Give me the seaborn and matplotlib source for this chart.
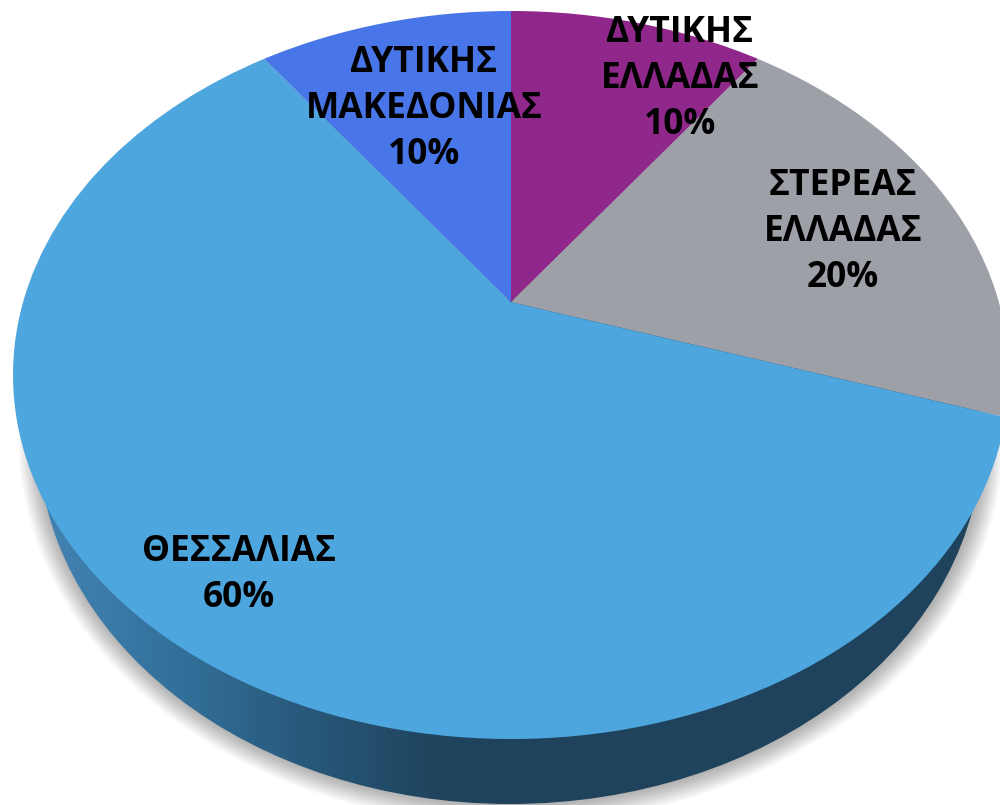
import numpy as np
import seaborn as sns
import matplotlib.pyplot as plt
import matplotlib.transforms as mtransforms
from matplotlib.patches import Ellipse

# Data
regions = ['ΔΥΤΙΚΗΣ\nΕΛΛΑΔΑΣ', 'ΣΤΕΡΕΑΣ\nΕΛΛΑΔΑΣ', 'ΘΕΣΣΑΛΙΑΣ', 'ΔΥΤΙΚΗΣ\nΜΑΚΕΔΟΝΙΑΣ']
shares = [10, 20, 60, 10]

# Style / layout
slice_colors = ['#90278B', '#9EA0A8', '#4DA6DE', '#4876E8']
label_centers = [(680, 33), (843, 186), (239, 552), (424, 63)]
line_step = 46
top_disc = (511, 375, 498, 364)  # cx, cy, rx, ry in pixels
low_disc = (510, 437, 472, 367)
tilt = 0.2  # how far the pie centre moves up the disc


class TiltedDisc(mtransforms.Transform):
    """Unit circle -> perspective ellipse, the pie centre lands above the middle."""
    input_dims = 2
    output_dims = 2
    has_inverse = False
    is_separable = False

    def transform_non_affine(self, values):
        x, y = np.asarray(values).T
        d = 1 + y * tilt
        xx = x * np.sqrt(1 - tilt ** 2) / d
        yy = (y + tilt) / d
        cx, cy, rx, ry = top_disc
        return np.column_stack([cx + rx * xx, cy - ry * yy])


sns.set_theme(style='white')
plt.rcParams['font.family'] = ['Open Sans', 'DejaVu Sans']

fig = plt.figure(figsize=(10, 8.05), dpi=100)
ax = fig.add_axes([0, 0, 1, 1])

wedges, _ = ax.pie(shares, colors=sns.color_palette(slice_colors), startangle=90,
                   counterclock=False)
disc = TiltedDisc()
for w in wedges:
    w.set_transform(disc + ax.transData)
    w.set_zorder(5)
    w.set_linewidth(0)

ax.set_aspect('auto')
ax.set_xlim(0, 1000)
ax.set_ylim(805, 0)
ax.axis('off')

# soft shadow under the pie
cx, cy, rx, ry = low_disc
for i in range(16, 0, -1):
    ax.add_patch(Ellipse((cx + 1, cy), 2 * (rx + i * 1.3), 2 * (ry + i * 1.3),
                         fc='black', ec='none', alpha=0.02, zorder=1))

# side wall with gradient
side = Ellipse((cx, cy), 2 * rx, 2 * ry, fc='none', ec='none', zorder=2)
ax.add_patch(side)
side_cmap = sns.blend_palette(['#4484B3', '#33719C', '#28587A', '#1F435C', '#1F435C',
                               '#1F435C', '#1F435C', '#1F435C'], as_cmap=True)
grad = np.linspace(0, 1, 256).reshape(1, -1)
img = ax.imshow(grad, extent=(cx - rx, cx + rx, 805, 300), cmap=side_cmap, aspect='auto', zorder=2)
img.set_clip_path(side)
ax.set_xlim(0, 1000)
ax.set_ylim(805, 0)

# labels
for name, share, (lx, ly) in zip(regions, shares, label_centers):
    lines = name.split('\n') + [f'{share}%']
    for i, line in enumerate(lines):
        ax.text(lx, ly + i * line_step, line, ha='center', va='center', color='black',
                fontsize=25.5, fontweight='bold', zorder=6)

fig.savefig('out.png', dpi=100)
